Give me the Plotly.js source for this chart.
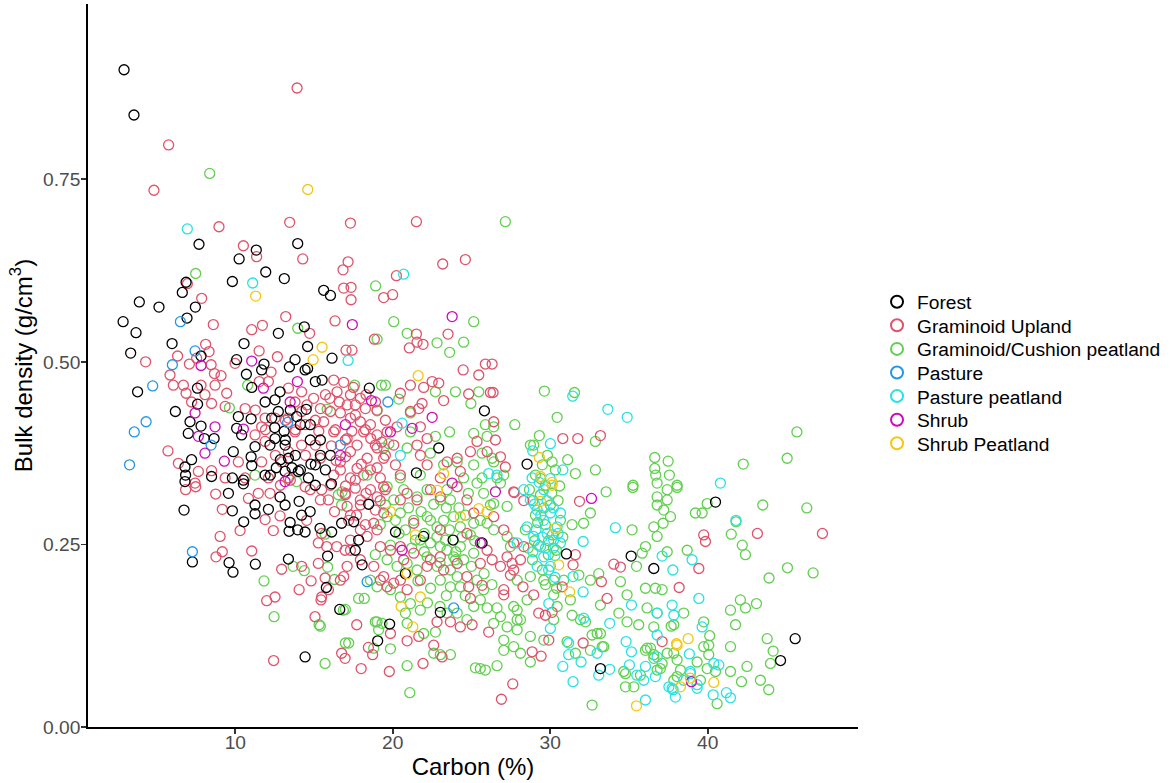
<!DOCTYPE html>
<html>
<head>
<meta charset="utf-8">
<script src="https://cdn.plot.ly/plotly-3.0.1.min.js"></script>
<style>html,body{margin:0;padding:0;background:#fff;}#chart{width:1170px;height:783px;}</style>
</head>
<body>
<div id="chart"></div>
<script>
// Land-cover categories (legend order) and their colours
const categories = ["Forest","Graminoid Upland","Graminoid/Cushion peatland","Pasture","Pasture peatland","Shrub","Shrub Peatland"];
const colors = ["#000000","#DF536B","#61D04F","#2297E6","#28E2E5","#CD0BBC","#F5C710"];

// [Carbon (%), Bulk density (g/cm3)] pairs
const forest = [[2.93,0.900],[3.56,0.838],[7.69,0.661],[13.96,0.662],[11.33,0.653],[10.24,0.641],[11.93,0.623],[13.11,0.614],[9.81,0.610],[3.90,0.582],[5.15,0.575],[6.63,0.595],[6.87,0.609],[7.46,0.575],[6.93,0.560],[2.87,0.555],[3.69,0.540],[5.98,0.525],[3.35,0.512],[10.55,0.525],[12.73,0.539],[14.38,0.548],[7.82,0.508],[3.79,0.459],[6.19,0.432],[7.59,0.464],[7.60,0.442],[10.70,0.483],[11.04,0.465],[10.08,0.503],[11.82,0.497],[11.67,0.489],[13.79,0.503],[13.43,0.493],[14.43,0.489],[7.12,0.418],[7.01,0.402],[7.82,0.412],[8.03,0.395],[8.65,0.395],[9.87,0.377],[10.19,0.425],[10.08,0.409],[11.00,0.422],[10.40,0.400],[11.25,0.384],[11.00,0.370],[11.04,0.358],[11.89,0.445],[12.52,0.448],[12.84,0.459],[12.31,0.423],[12.73,0.432],[12.52,0.395],[12.20,0.386],[13.16,0.386],[13.37,0.368],[7.22,0.366],[6.80,0.356],[6.84,0.345],[8.49,0.343],[9.81,0.341],[10.51,0.338],[11.89,0.345],[13.16,0.350],[14.00,0.350],[15.61,0.598],[16.04,0.591],[14.59,0.521],[16.14,0.505],[14.59,0.491],[15.08,0.473],[15.51,0.475],[18.51,0.464],[25.82,0.433],[22.92,0.382],[21.50,0.348],[14.76,0.414],[15.40,0.393],[16.04,0.372],[15.08,0.359],[15.72,0.352],[14.64,0.341],[6.74,0.297],[9.56,0.320],[9.81,0.296],[10.53,0.281],[11.25,0.292],[12.10,0.298],[12.84,0.315],[13.48,0.280],[13.41,0.268],[13.96,0.270],[14.43,0.267],[14.21,0.290],[14.75,0.295],[15.38,0.272],[16.12,0.267],[15.86,0.234],[13.37,0.230],[7.27,0.226],[9.60,0.225],[9.85,0.212],[11.27,0.223],[15.78,0.191],[16.63,0.161],[14.43,0.096],[16.10,0.333],[16.75,0.279],[6.80,0.336],[10.51,0.333],[11.25,0.304],[13.16,0.304],[14.05,0.309],[18.47,0.305],[17.52,0.281],[20.17,0.267],[21.96,0.261],[17.83,0.256],[17.62,0.242],[18.05,0.222],[20.80,0.210],[23.83,0.256],[25.67,0.252],[23.02,0.157],[19.80,0.141],[19.04,0.118],[31.03,0.237],[35.14,0.234],[36.58,0.217],[33.19,0.080],[28.53,0.360],[45.56,0.121],[44.63,0.091],[40.50,0.308],[13.49,0.434],[14.13,0.414],[13.18,0.393],[13.81,0.372],[14.76,0.393],[15.40,0.372],[14.13,0.352],[15.08,0.331],[12.86,0.366],[12.22,0.345],[12.50,0.410],[13.10,0.405],[13.90,0.425],[14.50,0.435],[12.60,0.355],[13.60,0.355],[14.80,0.360]];

const graminoidUpland = [[5.76,0.797],[13.92,0.875],[4.83,0.735],[8.96,0.685],[13.45,0.691],[17.31,0.690],[10.51,0.659],[21.50,0.692],[11.35,0.644],[14.28,0.641],[6.95,0.607],[7.86,0.587],[8.60,0.551],[11.04,0.544],[11.72,0.550],[13.20,0.562],[8.11,0.524],[8.33,0.514],[6.33,0.508],[4.30,0.500],[7.08,0.497],[7.54,0.505],[8.46,0.496],[8.67,0.484],[9.09,0.481],[5.85,0.482],[6.06,0.468],[6.70,0.468],[7.82,0.468],[8.71,0.468],[6.87,0.457],[8.07,0.455],[8.49,0.443],[7.22,0.445],[5.72,0.378],[6.38,0.361],[7.65,0.350],[8.49,0.351],[9.35,0.439],[9.45,0.457],[10.62,0.436],[11.51,0.515],[12.67,0.507],[12.27,0.486],[12.10,0.473],[11.52,0.473],[9.98,0.498],[11.89,0.423],[11.67,0.411],[11.89,0.391],[12.52,0.423],[11.25,0.400],[13.37,0.464],[14.21,0.459],[13.79,0.445],[14.21,0.432],[13.37,0.423],[13.79,0.404],[14.43,0.414],[14.21,0.386],[13.37,0.377],[12.94,0.363],[11.67,0.363],[10.19,0.363],[12.10,0.341],[13.37,0.341],[7.44,0.334],[9.35,0.341],[10.62,0.341],[17.16,0.637],[16.84,0.626],[16.88,0.601],[17.35,0.602],[17.35,0.585],[19.42,0.588],[19.99,0.592],[20.23,0.618],[23.17,0.634],[24.61,0.640],[16.33,0.556],[14.72,0.539],[18.83,0.531],[21.05,0.519],[21.50,0.538],[21.54,0.527],[21.92,0.524],[23.51,0.538],[17.03,0.516],[17.41,0.516],[25.88,0.497],[24.47,0.489],[25.46,0.482],[26.20,0.458],[24.82,0.456],[23.23,0.447],[22.92,0.471],[22.50,0.473],[21.96,0.465],[21.12,0.468],[20.48,0.457],[21.65,0.436],[21.86,0.443],[21.12,0.432],[20.27,0.411],[21.75,0.411],[22.18,0.395],[19.53,0.420],[19.00,0.434],[18.26,0.436],[17.62,0.441],[16.88,0.472],[16.25,0.475],[16.46,0.459],[17.31,0.455],[17.94,0.450],[17.10,0.441],[16.67,0.430],[17.31,0.423],[17.94,0.418],[18.58,0.414],[18.15,0.404],[19.00,0.400],[19.64,0.404],[20.06,0.386],[21.54,0.386],[21.75,0.372],[22.18,0.359],[23.45,0.363],[24.09,0.368],[24.29,0.350],[24.93,0.377],[25.35,0.391],[25.99,0.377],[19.42,0.368],[19.00,0.382],[18.37,0.368],[17.73,0.354],[16.67,0.363],[15.40,0.368],[14.97,0.450],[14.55,0.441],[15.40,0.436],[16.04,0.432],[15.61,0.418],[16.25,0.404],[17.10,0.395],[17.73,0.386],[17.31,0.377],[18.15,0.345],[19.21,0.341],[20.48,0.345],[23.02,0.341],[16.25,0.345],[17.31,0.341],[6.84,0.325],[7.48,0.329],[8.75,0.319],[9.17,0.298],[10.30,0.269],[9.03,0.261],[9.17,0.240],[8.77,0.233],[11.04,0.241],[12.94,0.216],[14.05,0.188],[12.52,0.178],[11.99,0.173],[12.43,0.091],[15.06,0.151],[14.81,0.200],[15.48,0.178],[15.91,0.188],[15.27,0.224],[15.70,0.204],[14.21,0.220],[11.89,0.284],[12.41,0.269],[12.84,0.289],[14.53,0.283],[15.48,0.265],[15.80,0.247],[16.44,0.247],[16.97,0.242],[15.27,0.252],[10.83,0.313],[11.46,0.320],[12.20,0.320],[14.43,0.329],[15.48,0.325],[15.91,0.311],[16.75,0.101],[16.97,0.094],[17.99,0.080],[17.71,0.140],[18.45,0.109],[18.72,0.099],[19.78,0.076],[19.85,0.128],[15.44,0.174],[27.62,0.059],[26.90,0.038],[21.92,0.087],[20.91,0.118],[22.60,0.112],[23.13,0.096],[22.81,0.144],[21.65,0.124],[26.09,0.130],[25.04,0.140],[23.66,0.144],[24.29,0.137],[24.93,0.176],[24.82,0.192],[25.67,0.194],[27.05,0.188],[27.05,0.181],[27.47,0.208],[26.31,0.229],[25.56,0.224],[24.71,0.206],[23.23,0.215],[22.18,0.220],[21.75,0.201],[20.91,0.188],[20.48,0.201],[19.64,0.192],[19.42,0.206],[18.79,0.220],[19.21,0.201],[20.06,0.197],[17.94,0.229],[17.10,0.220],[16.88,0.206],[17.31,0.242],[16.67,0.201],[17.20,0.283],[17.94,0.270],[18.37,0.261],[18.79,0.279],[19.42,0.293],[19.21,0.247],[19.85,0.242],[20.48,0.247],[20.69,0.229],[21.33,0.238],[22.39,0.229],[23.02,0.233],[24.09,0.224],[25.99,0.242],[26.84,0.220],[27.26,0.233],[27.68,0.215],[16.99,0.320],[17.62,0.327],[17.94,0.311],[17.10,0.302],[18.58,0.325],[19.00,0.315],[19.42,0.329],[20.91,0.320],[21.54,0.311],[22.39,0.325],[23.02,0.315],[24.09,0.329],[24.71,0.311],[25.14,0.293],[26.41,0.288],[27.05,0.270],[27.68,0.322],[24.71,0.265],[23.02,0.270],[21.33,0.279],[17.31,0.256],[31.86,0.309],[27.72,0.321],[28.32,0.310],[39.75,0.263],[39.86,0.254],[39.44,0.217],[38.19,0.191],[34.04,0.223],[34.46,0.219],[33.25,0.199],[33.61,0.176],[31.60,0.236],[30.76,0.192],[28.27,0.192],[28.95,0.181],[29.27,0.156],[29.69,0.153],[30.12,0.157],[29.91,0.119],[32.09,0.115],[28.85,0.103],[29.42,0.097],[27.58,0.224],[28.11,0.229],[28.32,0.247],[27.68,0.252],[31.45,0.222],[37.11,0.117],[26.31,0.497],[26.37,0.458],[26.41,0.418],[26.52,0.393],[30.80,0.395],[31.75,0.395],[33.19,0.399],[26.84,0.370],[27.15,0.356],[43.16,0.265],[47.29,0.265],[15.08,0.420],[15.72,0.455],[16.35,0.407],[16.99,0.393],[17.62,0.427],[18.26,0.407],[18.89,0.386],[19.53,0.372],[20.17,0.359],[16.67,0.352],[17.62,0.338],[18.58,0.352],[16.04,0.331],[16.99,0.318],[17.94,0.304],[18.89,0.297],[19.53,0.325],[20.48,0.311],[17.31,0.290],[18.26,0.277],[15.08,0.386],[14.45,0.372],[13.81,0.407],[13.18,0.420],[12.54,0.372],[11.91,0.407],[11.27,0.434],[13.49,0.338],[14.76,0.325],[15.40,0.311],[12.86,0.331],[16.00,0.450],[16.60,0.445],[17.50,0.465],[18.30,0.455],[18.90,0.445],[15.30,0.405],[16.10,0.385],[17.40,0.405],[18.60,0.395],[19.30,0.390],[16.40,0.365],[17.00,0.370],[18.00,0.360],[19.00,0.355],[17.00,0.330],[18.30,0.320],[19.20,0.310],[16.30,0.295],[17.70,0.290],[19.00,0.270]];

const graminoidCushion = [[8.37,0.758],[27.15,0.692],[7.48,0.621],[13.96,0.546],[10.78,0.468],[9.62,0.437],[13.89,0.336],[11.25,0.345],[18.91,0.604],[20.06,0.555],[19.00,0.531],[20.91,0.539],[22.81,0.526],[23.61,0.513],[24.50,0.527],[25.14,0.555],[19.28,0.468],[19.53,0.468],[15.83,0.435],[19.00,0.433],[17.58,0.468],[20.38,0.449],[22.71,0.459],[23.98,0.459],[25.46,0.459],[24.96,0.443],[21.12,0.430],[23.61,0.404],[25.14,0.402],[25.88,0.414],[25.99,0.398],[26.41,0.411],[22.71,0.398],[21.12,0.404],[19.75,0.388],[19.42,0.382],[20.91,0.382],[22.39,0.375],[23.23,0.359],[24.09,0.363],[25.67,0.375],[26.31,0.368],[25.14,0.359],[18.37,0.345],[20.48,0.341],[21.75,0.345],[24.50,0.341],[25.67,0.341],[26.62,0.341],[29.63,0.460],[31.54,0.458],[30.44,0.424],[27.75,0.414],[29.31,0.399],[28.95,0.386],[32.87,0.391],[45.67,0.404],[45.05,0.368],[42.26,0.360],[36.64,0.369],[37.49,0.364],[36.64,0.354],[36.70,0.345],[37.57,0.345],[31.11,0.366],[31.60,0.347],[32.87,0.352],[30.12,0.363],[26.41,0.363],[27.05,0.345],[35.26,0.331],[36.79,0.334],[38.06,0.331],[33.55,0.322],[35.25,0.328],[37.43,0.325],[38.06,0.328],[36.79,0.315],[37.43,0.311],[36.79,0.304],[37.21,0.297],[37.64,0.288],[37.17,0.279],[36.58,0.274],[36.79,0.261],[36.05,0.247],[35.84,0.238],[35.48,0.220],[37.43,0.240],[38.70,0.242],[39.22,0.293],[39.65,0.293],[39.97,0.306],[35.20,0.270],[32.55,0.293],[32.12,0.279],[31.39,0.277],[31.82,0.208],[32.55,0.201],[33.08,0.210],[34.46,0.199],[36.05,0.190],[36.68,0.190],[37.11,0.188],[34.88,0.181],[33.19,0.167],[34.36,0.156],[34.88,0.144],[35.62,0.140],[36.58,0.137],[36.15,0.163],[36.79,0.156],[37.85,0.140],[32.98,0.128],[32.66,0.126],[31.39,0.153],[31.92,0.147],[32.24,0.144],[31.07,0.117],[33.40,0.110],[31.60,0.101],[32.55,0.105],[36.05,0.105],[36.58,0.099],[37.11,0.087],[37.43,0.101],[38.06,0.092],[39.33,0.089],[39.75,0.110],[39.75,0.144],[38.48,0.156],[34.78,0.073],[35.31,0.055],[34.78,0.055],[32.66,0.030],[37.85,0.064],[36.79,0.078],[27.90,0.160],[27.90,0.133],[28.11,0.147],[28.74,0.124],[28.74,0.089],[28.11,0.101],[29.59,0.119],[30.22,0.147],[30.44,0.165],[31.28,0.174],[30.22,0.181],[28.53,0.174],[27.90,0.201],[28.74,0.206],[29.59,0.201],[30.22,0.201],[30.86,0.201],[37.68,0.138],[40.13,0.125],[40.07,0.112],[40.07,0.099],[41.45,0.110],[41.77,0.140],[41.45,0.160],[42.40,0.163],[43.10,0.169],[43.78,0.121],[44.16,0.104],[43.99,0.087],[43.35,0.064],[43.88,0.051],[42.50,0.083],[42.15,0.062],[41.45,0.076],[40.50,0.076],[39.97,0.080],[39.54,0.064],[40.60,0.032],[38.27,0.078],[38.06,0.069],[37.85,0.101],[37.00,0.080],[36.58,0.094],[36.37,0.108],[36.15,0.108],[35.73,0.071],[34.67,0.076],[33.19,0.128],[33.30,0.110],[43.50,0.304],[42.20,0.249],[42.40,0.236],[43.90,0.204],[45.07,0.218],[46.30,0.300],[46.70,0.211],[41.50,0.264],[41.80,0.281],[42.08,0.174],[16.78,0.322],[19.64,0.329],[20.06,0.311],[20.69,0.325],[21.54,0.315],[22.18,0.325],[23.02,0.311],[23.45,0.325],[25.35,0.334],[25.77,0.320],[26.41,0.306],[26.84,0.334],[19.64,0.288],[20.48,0.293],[21.33,0.283],[22.18,0.288],[22.81,0.274],[23.23,0.283],[23.87,0.288],[24.29,0.274],[25.14,0.279],[25.99,0.279],[26.41,0.270],[27.26,0.261],[27.47,0.247],[21.75,0.256],[22.39,0.252],[23.02,0.247],[23.45,0.242],[23.87,0.233],[24.29,0.247],[24.50,0.229],[25.14,0.238],[19.64,0.229],[20.27,0.220],[20.91,0.224],[21.54,0.215],[22.18,0.233],[22.81,0.220],[23.66,0.215],[24.09,0.206],[23.02,0.201],[23.66,0.192],[24.29,0.192],[25.35,0.201],[25.77,0.188],[25.56,0.174],[25.14,0.165],[25.99,0.163],[26.62,0.163],[26.84,0.151],[27.68,0.165],[27.90,0.147],[26.41,0.142],[27.26,0.137],[24.09,0.156],[23.45,0.156],[24.71,0.147],[22.71,0.130],[21.96,0.128],[20.91,0.142],[20.80,0.156],[21.12,0.169],[21.75,0.160],[20.48,0.178],[19.85,0.188],[19.00,0.192],[18.58,0.201],[17.83,0.176],[18.19,0.176],[16.99,0.161],[19.00,0.144],[19.32,0.142],[16.99,0.115],[17.20,0.115],[18.79,0.108],[19.85,0.107],[22.60,0.101],[23.02,0.099],[23.66,0.099],[20.91,0.084],[21.08,0.047],[25.25,0.081],[25.56,0.080],[25.88,0.078],[26.62,0.084],[27.05,0.105],[27.68,0.110],[27.05,0.119],[27.26,0.302],[11.82,0.200],[12.46,0.151],[15.70,0.264],[15.86,0.219],[16.29,0.202],[13.67,0.220],[14.38,0.214],[15.32,0.140],[15.70,0.087],[16.86,0.160],[16.54,0.318],[16.75,0.304],[15.40,0.138],[18.89,0.144],[19.10,0.133],[29.06,0.345],[29.69,0.331],[29.38,0.318],[30.01,0.304],[29.06,0.290],[29.69,0.277],[30.14,0.263],[29.25,0.249],[29.88,0.236],[28.87,0.229],[30.33,0.352],[28.68,0.325],[30.65,0.283],[30.39,0.242],[28.42,0.270],[29.50,0.359],[29.82,0.372],[28.74,0.386],[20.17,0.283],[20.80,0.270],[19.53,0.304],[23.66,0.311],[24.61,0.290],[24.93,0.263],[23.34,0.256],[22.39,0.283],[21.44,0.256],[19.85,0.249],[19.21,0.277],[18.89,0.236],[23.98,0.229],[25.56,0.283],[26.20,0.304],[29.20,0.280],[29.60,0.300],[30.10,0.320],[29.40,0.340],[28.90,0.310],[30.50,0.310],[30.60,0.330],[29.00,0.255],[29.90,0.255],[30.20,0.245],[29.50,0.215],[28.60,0.245],[30.80,0.260],[29.70,0.195],[30.40,0.190],[21.00,0.300],[21.80,0.295],[22.60,0.305],[23.40,0.300],[24.20,0.300],[24.80,0.320],[22.00,0.265],[22.80,0.260],[23.60,0.270],[24.40,0.260],[25.20,0.255],[21.20,0.245],[22.00,0.240],[23.00,0.225],[24.00,0.240],[25.00,0.220],[21.60,0.200],[22.40,0.190],[23.40,0.180],[24.60,0.180],[22.20,0.170],[23.00,0.165],[25.80,0.210],[26.30,0.195],[20.40,0.265]];

const pasture = [[6.51,0.555],[7.44,0.515],[6.00,0.496],[4.75,0.467],[4.33,0.418],[3.58,0.404],[3.28,0.359],[8.46,0.386],[13.32,0.417],[7.27,0.240],[19.69,0.445],[16.67,0.386],[18.37,0.199],[23.87,0.163]];

const pasturePeatland = [[6.95,0.682],[11.10,0.608],[20.69,0.620],[17.16,0.502],[20.59,0.416],[20.48,0.372],[26.09,0.347],[26.62,0.345],[33.66,0.435],[34.89,0.424],[31.43,0.453],[30.01,0.388],[28.89,0.378],[30.80,0.352],[28.85,0.341],[40.81,0.334],[34.14,0.273],[32.09,0.254],[37.79,0.215],[37.11,0.234],[39.01,0.229],[39.44,0.176],[37.74,0.167],[37.85,0.153],[36.79,0.156],[35.16,0.167],[33.78,0.142],[32.09,0.185],[31.45,0.206],[29.91,0.169],[30.01,0.135],[32.13,0.149],[31.17,0.115],[31.17,0.099],[31.96,0.089],[30.80,0.083],[31.45,0.062],[32.98,0.101],[33.08,0.071],[33.78,0.079],[34.82,0.117],[35.03,0.085],[35.50,0.071],[35.94,0.064],[36.05,0.083],[36.05,0.037],[36.79,0.096],[36.79,0.126],[37.74,0.053],[37.95,0.041],[38.48,0.064],[38.90,0.073],[39.33,0.053],[39.65,0.137],[38.84,0.100],[27.90,0.252],[28.74,0.311],[29.17,0.297],[29.59,0.283],[30.01,0.293],[30.44,0.274],[29.80,0.265],[30.22,0.256],[29.38,0.247],[30.65,0.252],[29.59,0.233],[29.17,0.220],[30.01,0.220],[28.53,0.274],[28.95,0.261],[28.32,0.325],[29.59,0.325],[30.65,0.293],[35.16,0.103],[37.81,0.051],[37.54,0.055],[38.90,0.076],[39.33,0.058],[40.39,0.087],[40.71,0.085],[40.35,0.044],[41.19,0.047],[41.45,0.040],[36.68,0.069],[41.80,0.283],[29.00,0.305],[29.40,0.290],[29.80,0.310],[30.20,0.300],[29.10,0.270],[29.50,0.260],[30.30,0.235],[29.70,0.245],[28.90,0.240],[30.50,0.265],[29.30,0.335],[30.00,0.340],[29.90,0.215],[30.30,0.205]];

const shrub = [[11.04,0.501],[7.82,0.495],[13.94,0.473],[13.48,0.445],[7.44,0.430],[8.71,0.411],[7.65,0.398],[8.07,0.375],[9.30,0.364],[10.51,0.408],[11.78,0.464],[13.16,0.336],[17.43,0.551],[23.77,0.562],[18.64,0.447],[22.50,0.424],[21.23,0.409],[19.85,0.404],[16.99,0.414],[16.67,0.372],[32.62,0.313],[38.97,0.062],[25.56,0.252],[23.77,0.334],[26.52,0.322],[20.59,0.242]];

const shrubPeatland = [[14.60,0.736],[11.29,0.590],[15.51,0.520],[14.94,0.503],[21.61,0.481],[23.23,0.347],[19.85,0.295],[22.85,0.324],[24.29,0.288],[25.46,0.299],[21.44,0.263],[20.91,0.210],[20.53,0.165],[21.75,0.178],[21.27,0.137],[25.99,0.295],[30.12,0.331],[29.38,0.309],[30.33,0.272],[30.54,0.222],[31.24,0.185],[38.06,0.112],[38.76,0.121],[35.48,0.029],[38.90,0.067],[38.02,0.114],[40.39,0.061],[38.27,0.055],[29.31,0.369],[29.38,0.343],[30.12,0.335]];

const xTicks = [10,20,30,40];
const yTicks = [0,0.25,0.5,0.75];
const yTickLabels = ["0.00","0.25","0.50","0.75"];

const series = [forest, graminoidUpland, graminoidCushion, pasture, pasturePeatland, shrub, shrubPeatland];
// drawing order (bottom to top)
const drawOrder = [2,1,4,0,3,5,6];

const legendIds = categories.map(function(c, i){ return i === 0 ? "legend" : "legend" + (i + 1); });

const traces = drawOrder.map(function(i){
  const d = series[i];
  return {
    type: "scatter",
    mode: "markers",
    name: categories[i],
    legend: legendIds[i],
    x: d.map(function(p){return p[0];}),
    y: d.map(function(p){return p[1];}),
    marker: {symbol: "circle-open", size: 10, color: colors[i], line: {width: 1.3, color: colors[i]}},
    hoverinfo: "skip"
  };
});

const fontFam = "Liberation Sans, Arial, sans-serif";
const tickFont = {family: fontFam, size: 19.2, color: "#4D4D4D"};
const titleFont = {family: fontFam, size: 24, color: "#000000"};

const layout = {
  width: 1170, height: 783,
  paper_bgcolor: "#ffffff", plot_bgcolor: "#ffffff",
  margin: {l: 88, r: 312, t: 4, b: 56, pad: 0},
  showlegend: true,
  xaxis: {
    range: [0.64, 49.55], tickvals: xTicks, ticktext: xTicks.map(String),
    showgrid: false, zeroline: false, showline: true, linecolor: "#000000", linewidth: 1.8,
    ticks: "outside", ticklen: 5, tickwidth: 1.8, tickcolor: "#333333",
    tickfont: tickFont, ticklabelstandoff: -8,
    title: {text: "Carbon (%)", font: titleFont, standoff: 6}
  },
  yaxis: {
    range: [0, 0.99], tickvals: yTicks, ticktext: yTickLabels,
    showgrid: false, zeroline: false, showline: true, linecolor: "#000000", linewidth: 1.8,
    ticks: "outside", ticklen: 5, tickwidth: 1.8, tickcolor: "#333333",
    tickfont: tickFont, ticklabelstandoff: -3,
    title: {text: "Bulk density (g/cm<sup>3</sup>)", font: titleFont, standoff: 4}
  }
};

// one legend per category so that the entries sit at the reference spacing
categories.forEach(function(c, i){
  const centre = 301.7 + 23.6 * i;           // vertical centre of the entry (px)
  layout[legendIds[i]] = {
    x: 1.0247, xanchor: "left",
    y: 1 - (centre - 4) / 723, yanchor: "middle",
    font: {family: fontFam, size: 19.2, color: "#000000"},
    bgcolor: "rgba(0,0,0,0)", borderwidth: 0, itemsizing: "constant"
  };
});

Plotly.newPlot("chart", traces, layout, {displayModeBar: false, staticPlot: true});
</script>
</body>
</html>
